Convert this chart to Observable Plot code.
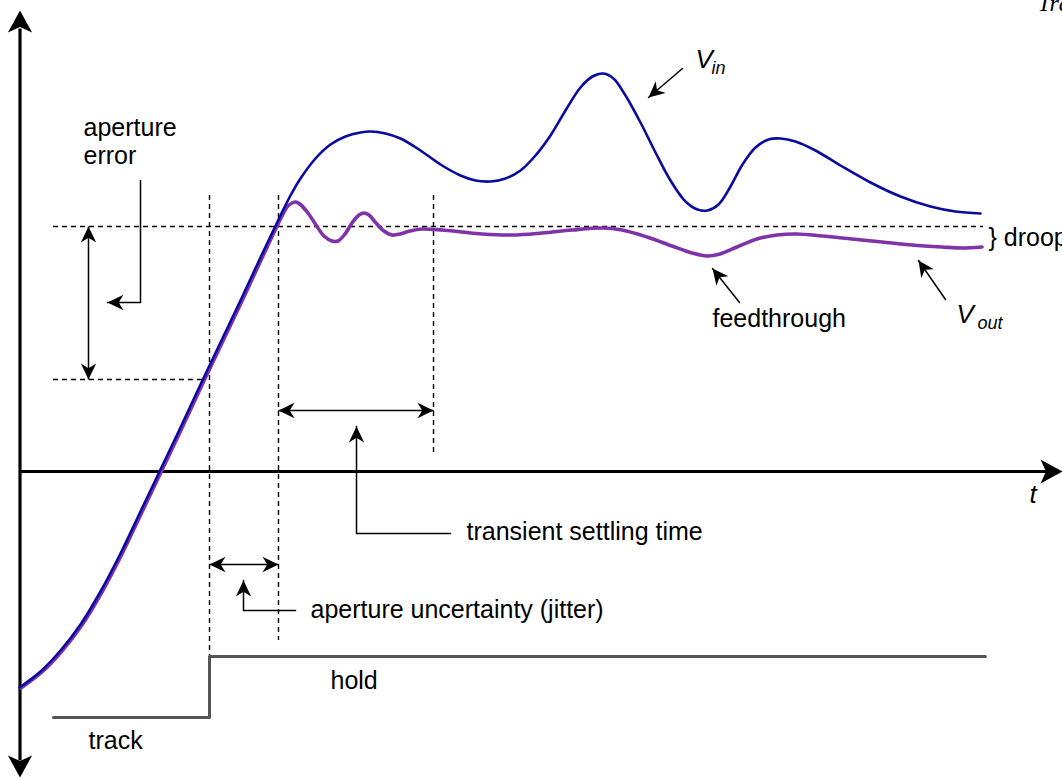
<!DOCTYPE html>
<html><head><meta charset="utf-8">
<script src="https://cdn.jsdelivr.net/npm/d3@7"></script>
<script src="https://cdn.jsdelivr.net/npm/@observablehq/plot@0.6"></script>
<style>html,body{margin:0;padding:0;background:#fff;overflow:hidden}#chart svg{display:block}</style>
</head><body><div id="chart"></div>
<script>
// Diagram units: t to the right, level measured downward (pixel-like frame)
const vIn = [[19,687],[40,671],[60,650],[80,624],[100,591],[120,553],[140,511],[160,469],[180,427],[200,384],[220,342],[240,300],[260,257],[280,215],[290,195],[300,178],[315,158],[330,144],[345,136],[360,132],[370,131],[385,133],[400,138],[420,150],[440,164],[460,175],[475,180],[490,181],[505,178],[520,170],[535,155],[550,135],[565,110],[580,87],[592,76],[603,73],[613,78],[625,95],[640,122],[655,152],[670,180],[685,201],[697,209],[707,210],[718,204],[730,186],[742,164],[755,147],[768,139],[780,138],[795,141],[815,150],[840,165],[870,182],[900,196],[930,206],[955,211],[980,213]];
const vOutHold = [[285,206],[290,202],[294,201],[299,204],[306,212],[314,224],[322,235],[330,240],[336,240],[343,233],[350,222],[357,214],[362,212],[367,214],[374,222],[382,230],[390,234],[398,233],[408,230],[420,228],[440,229],[460,231],[480,233],[510,234],[540,232],[570,229],[600,227],[620,229],[645,236],[670,245],[690,252],[705,255],[718,253],[735,246],[755,238],[775,234],[795,233],[820,235],[850,238],[880,241],[910,244],[940,246],[960,247],[980,246]];
const vOut = vIn.filter(d => d[0] <= 280).concat(vOutHold);
const trackHold = [[53,717],[209,656],[985,656]];

const guideH = [{y:226,x1:53,x2:983},{y:379,x1:53,x2:206}];
const guideV = [{x:209,y1:195,y2:655},{x:278,y1:195,y2:640},{x:433,y1:195,y2:456}];

const doubleArrows = [
  {x1:88,y1:226,x2:88,y2:379},
  {x1:209,y1:564,x2:278,y2:564},
  {x1:278,y1:410,x2:433,y2:410}
];
const pointers = [
  [[140,180],[140,302],[107,302]],
  [[295,610],[243,610],[243,580]],
  [[450,533],[356,533],[356,426]],
  [[739,302],[712,268]],
  [[682,68],[648,97]],
  [[945,299],[918,260]]
];
const axesLines = [
  {x1:19.5,y1:28,x2:19.5,y2:760},
  {x1:19.5,y1:471,x2:1046,y2:471}
];
const axisTips = [[19.5,10,0],[19.5,777,180],[1062,471,90]];

const labels = [
  {x:83,y:135,text:"aperture"},
  {x:83,y:163,text:"error"},
  {x:466,y:539,text:"transient settling time"},
  {x:310,y:617,text:"aperture uncertainty (jitter)"},
  {x:330,y:688,text:"hold"},
  {x:88,y:748,text:"track"},
  {x:712,y:326,text:"feedthrough"},
  {x:988,y:245,text:"} droop"}
];
const italicMain = [{x:695,y:67,text:"V"},{x:956,y:322,text:"V"},{x:1029,y:502,text:"t"}];
const italicSub = [{x:711,y:73,text:"in"},{x:977,y:328,text:"out"}];
const titleText = [{x:1037,y:10,text:"Track-and-hold"}];

// arrowhead symbols: tip at origin, pointing up
function headSymbol(hwRatio, notchRatio) {
  return {draw(ctx, size) {
    const L = Math.sqrt(size / Math.PI), hw = hwRatio * L, n = notchRatio * L;
    ctx.moveTo(0, 0); ctx.lineTo(hw, L); ctx.lineTo(0, L - n); ctx.lineTo(-hw, L); ctx.closePath();
  }};
}
const smallHead = headSymbol(0.48, 0.3);
const bigHead = headSymbol(0.55, 0.25);
const ang = (a, b) => Math.atan2(b[0] - a[0], -(b[1] - a[1])) * 180 / Math.PI;

const heads = [];
doubleArrows.forEach(d => {
  const a = [d.x1, d.y1], b = [d.x2, d.y2];
  heads.push({x:b[0], y:b[1], angle:ang(a,b)});
  heads.push({x:a[0], y:a[1], angle:ang(b,a)});
});
pointers.forEach(p => {
  const a = p[p.length-2], b = p[p.length-1];
  heads.push({x:b[0], y:b[1], angle:ang(a,b)});
});
const pointerRows = pointers.flatMap((p, i) => p.map(q => ({id:i, x:q[0], y:q[1]})));

const sans = "'Liberation Sans', Arial, Helvetica, sans-serif";

const chart = Plot.plot({
  width: 1062, height: 778, margin: 0,
  x: {domain: [0, 1062], axis: null},
  y: {domain: [778, 0], axis: null},
  style: {background: "#fff", fontFamily: sans},
  marks: [
    Plot.line(trackHold, {x: d => d[0], y: d => d[1], curve: "step-after", stroke: "#555", strokeWidth: 3}),
    Plot.ruleY(guideH, {y: "y", x1: "x1", x2: "x2", stroke: "black", strokeWidth: 1.4, strokeDasharray: "5,4"}),
    Plot.ruleX(guideV, {x: "x", y1: "y1", y2: "y2", stroke: "black", strokeWidth: 1.4, strokeDasharray: "5,4"}),
    Plot.link(axesLines, {x1: "x1", y1: "y1", x2: "x2", y2: "y2", stroke: "black", strokeWidth: 3.2}),
    Plot.dot(axisTips, {x: d => d[0], y: d => d[1], rotate: d => d[2], r: 22, symbol: bigHead, fill: "black", stroke: "none"}),
    Plot.line(vOut, {x: d => d[0], y: d => d[1], curve: "catmull-rom", stroke: "#8033a8", strokeWidth: 3.6, dx: 1.5, dy: 0.5}),
    Plot.line(vIn, {x: d => d[0], y: d => d[1], curve: "catmull-rom", stroke: "#0a0a9e", strokeWidth: 2.6}),
    Plot.link(doubleArrows, {x1: "x1", y1: "y1", x2: "x2", y2: "y2", stroke: "black", strokeWidth: 1.5}),
    Plot.line(pointerRows, {x: "x", y: "y", z: "id", stroke: "black", strokeWidth: 1.5}),
    Plot.dot(heads, {x: "x", y: "y", rotate: "angle", r: 16, symbol: smallHead, fill: "black", stroke: "none"}),
    Plot.text(labels, {x: "x", y: "y", text: "text", textAnchor: "start", lineAnchor: "bottom", fontSize: 25, fill: "black"}),
    Plot.text(italicMain, {x: "x", y: "y", text: "text", textAnchor: "start", lineAnchor: "bottom", fontSize: 26, fontStyle: "italic", fill: "black"}),
    Plot.text(italicSub, {x: "x", y: "y", text: "text", textAnchor: "start", lineAnchor: "bottom", fontSize: 18, fontStyle: "italic", fill: "black"}),
    Plot.text(titleText, {x: "x", y: "y", text: "text", textAnchor: "start", lineAnchor: "bottom", fontSize: 24, fontStyle: "italic", fontFamily: "'Liberation Serif', 'Times New Roman', serif", fill: "black"})
  ]
});
document.getElementById("chart").appendChild(chart);
</script>
</body></html>
